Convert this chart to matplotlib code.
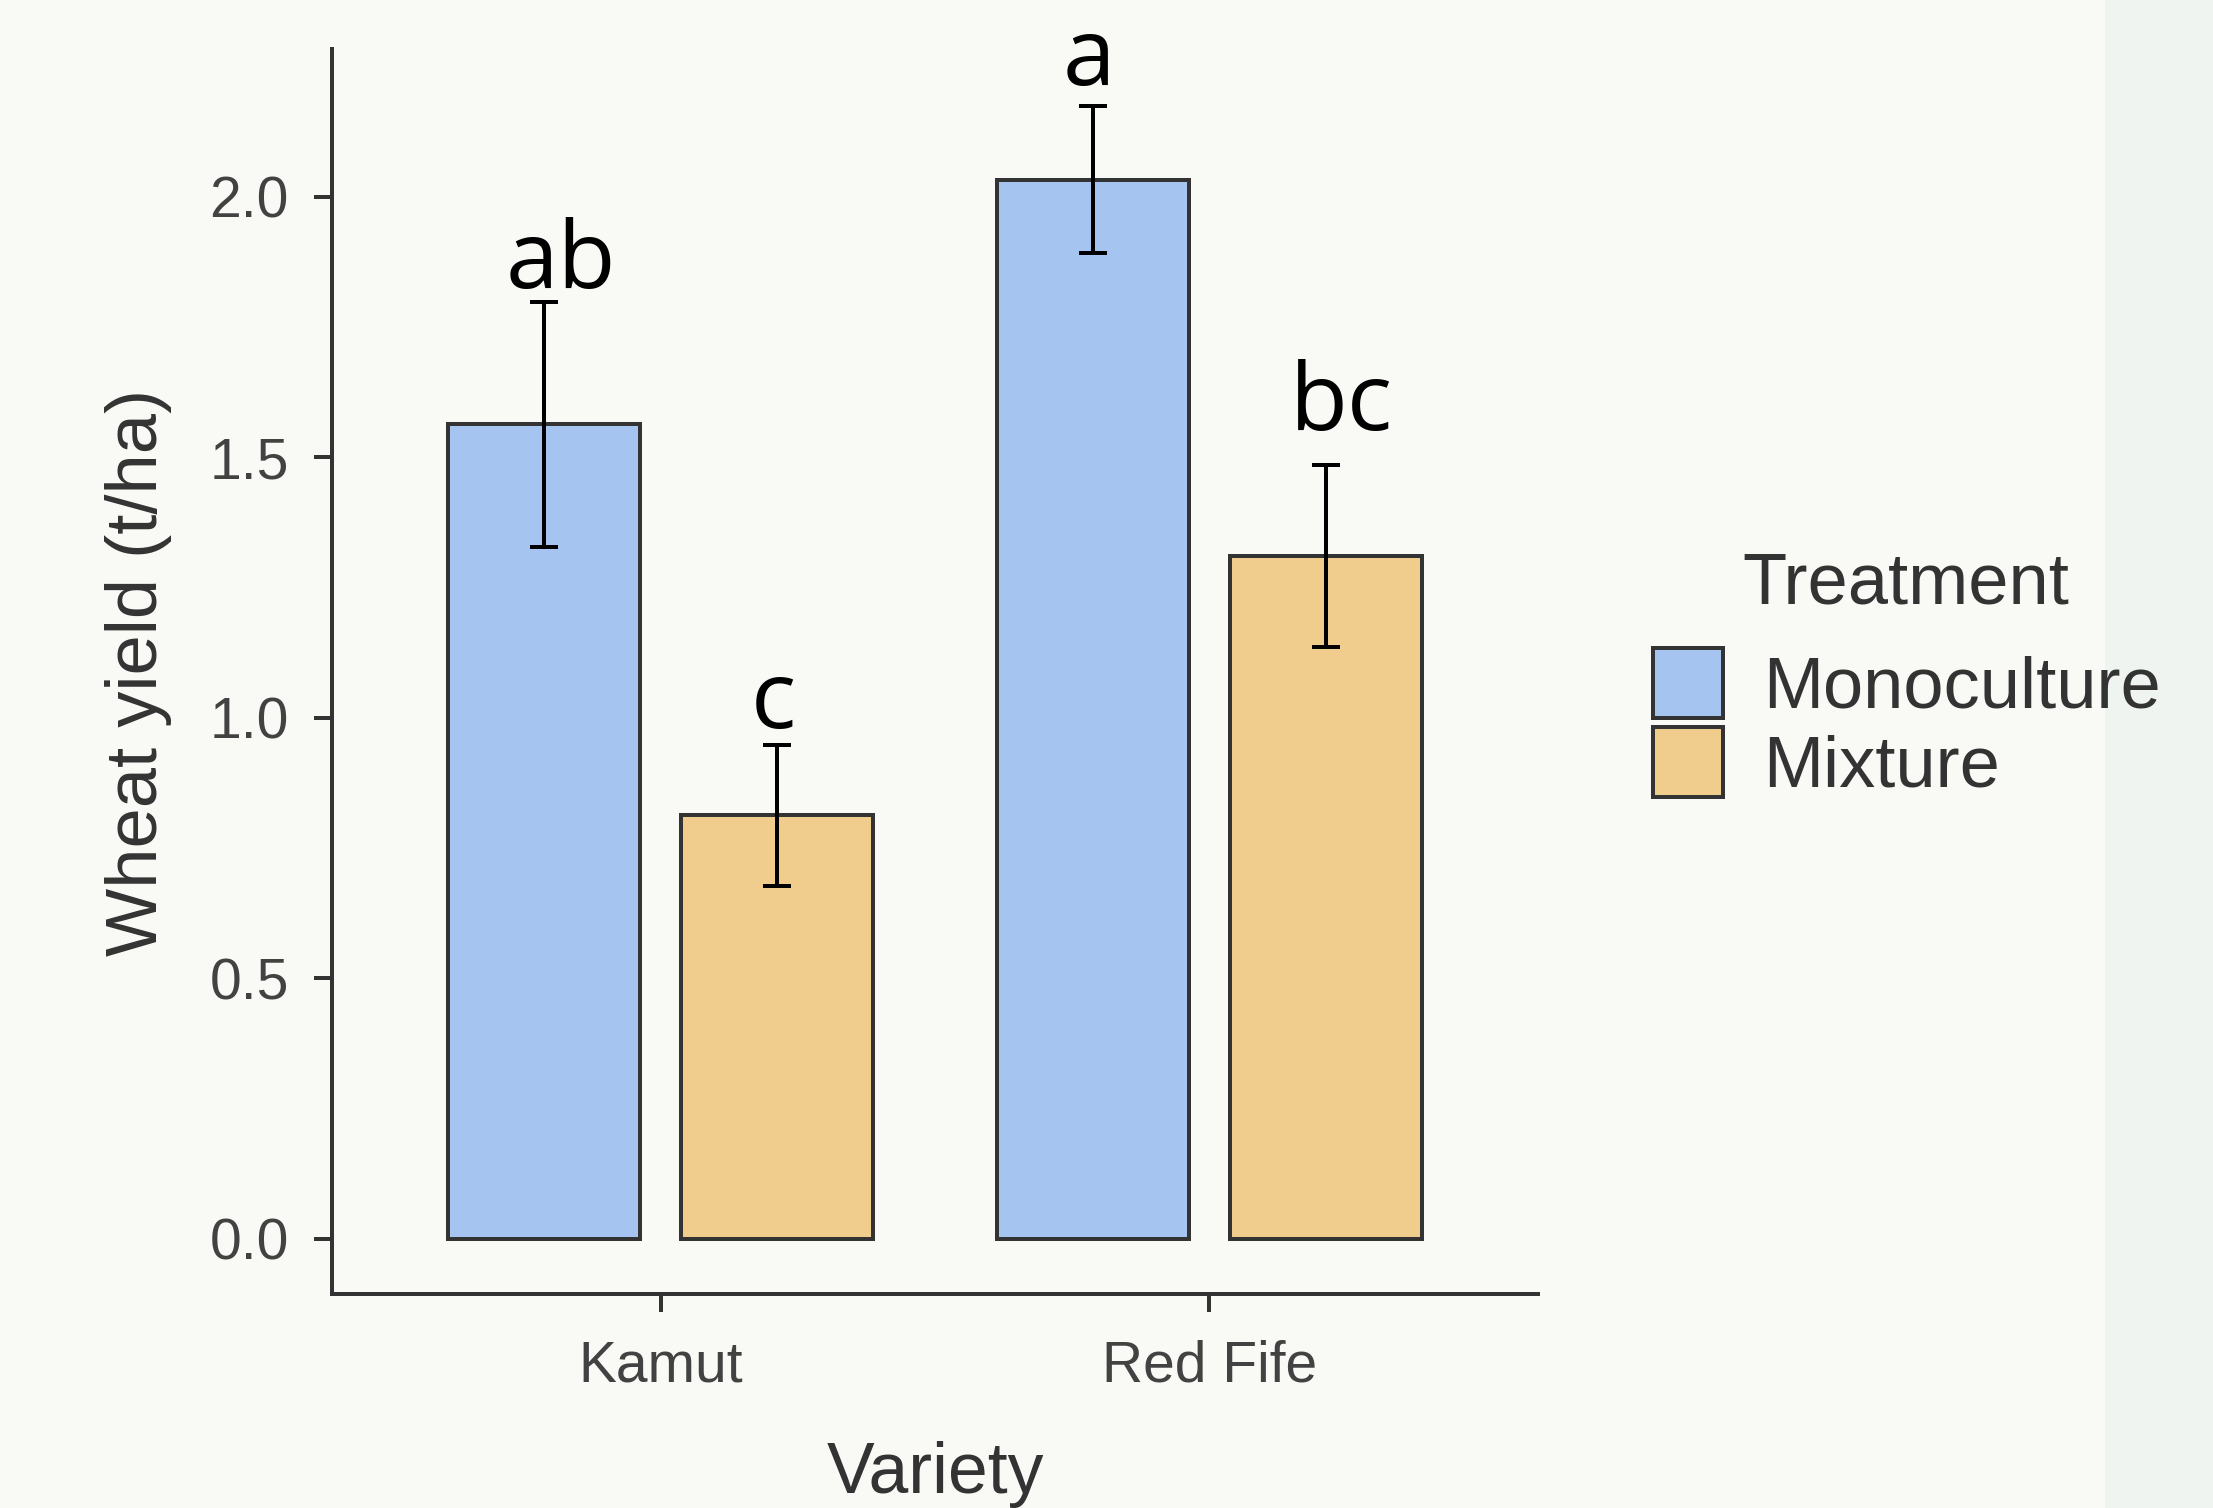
import matplotlib
matplotlib.use("Agg")
import matplotlib.pyplot as plt
from matplotlib.patches import Rectangle, Patch
from matplotlib.transforms import offset_copy
import numpy as np

# ---- data ----
varieties = ["Kamut", "Red Fife"]
treatments = ["Monoculture", "Mixture"]
mono_mean = [1.563, 2.033]
mono_se = [0.235, 0.141]
mix_mean = [0.813, 1.311]
mix_se = [0.135, 0.175]
mono_letters = ["ab", "a"]
mix_letters = ["c", "bc"]
mono_letter_y = [1.825, 2.215]
mix_letter_y = [0.981, 1.553]
yticks = [0.0, 0.5, 1.0, 1.5, 2.0]

# ---- style ----
BG = "#f9faf5"
STRIP = "#eff4f0"
C_MONO = "#a5c4f0"
C_MIX = "#f0cd8c"
EDGE = "#333333"
TXT = "#333333"
TICKTXT = "#424242"
W, H = 2213, 1508
DPI = 100
PX = 72 / DPI  # points per pixel

plt.rcParams['font.family'] = ['Liberation Sans', 'DejaVu Sans']

fig = plt.figure(figsize=(W / DPI, H / DPI), dpi=DPI, facecolor=BG)
fig.patches.append(Rectangle((2105 / W, 0), 1 - 2105 / W, 1, transform=fig.transFigure,
                             facecolor=STRIP, edgecolor='none', zorder=-10))

ax_l, ax_r, ax_b, ax_t = 332, 1538, 1294, 49.4
ax = fig.add_axes([ax_l / W, 1 - ax_b / H, (ax_r - ax_l) / W, (ax_b - ax_t) / H])
ax.set_facecolor(BG)

x = np.arange(len(varieties))
bw = 0.35
off = 0.2125
lw = 4.0 * PX

ax.bar(x - off, mono_mean, width=bw, color=C_MONO, edgecolor=EDGE, linewidth=lw, zorder=2)
ax.bar(x + off, mix_mean, width=bw, color=C_MIX, edgecolor=EDGE, linewidth=lw, zorder=2)
cap = 14 * PX
ax.errorbar(x - off, mono_mean, yerr=mono_se, fmt='none', ecolor='black', elinewidth=lw,
            capsize=cap, capthick=lw, zorder=3)
ax.errorbar(x + off, mix_mean, yerr=mix_se, fmt='none', ecolor='black', elinewidth=lw,
            capsize=cap, capthick=lw, zorder=3)


def letter(xi, yi, lab):
    dx = (16 if len(lab) > 1 else -4) * PX
    tr = offset_copy(ax.transData, fig=fig, x=dx, y=0, units='points')
    ax.text(xi, yi, lab, ha='center', va='baseline', fontsize=68, transform=tr,
            family=['Open Sans', 'DejaVu Sans'], color='black', zorder=4)


for xi, yi, lab in zip(x - off, mono_letter_y, mono_letters):
    letter(xi, yi, lab)
for xi, yi, lab in zip(x + off, mix_letter_y, mix_letters):
    letter(xi, yi, lab)

ax.set_xlim(-0.6, 1.6)
ax.set_ylim(-0.106, 2.283)
ax.set_xticks(x)
ax.set_xticklabels(varieties)
ax.set_yticks(yticks)
ax.set_yticklabels([f"{v:.1f}" for v in yticks])

for s in ['top', 'right']:
    ax.spines[s].set_visible(False)
for s in ['left', 'bottom']:
    ax.spines[s].set_color(EDGE)
    ax.spines[s].set_linewidth(lw)
    ax.spines[s].set_capstyle('projecting')

ax.tick_params(axis='both', length=18 * PX, width=lw, color=EDGE, labelsize=41, labelcolor=TICKTXT)
ax.tick_params(axis='x', pad=20)
ax.tick_params(axis='y', pad=18)

fig.text(138 / W, 1 - 672 / H, "Wheat yield (t/ha)", rotation=90, ha='center', va='center',
         fontsize=52, color=TXT)
fig.text(935 / W, 1 - 1493 / H, "Variety", ha='center', va='baseline', fontsize=51.5, color=TXT)

handles = [Patch(facecolor=C_MONO, edgecolor=EDGE, linewidth=lw),
           Patch(facecolor=C_MIX, edgecolor=EDGE, linewidth=lw)]
fig.legend(handles, treatments, loc='upper left', bbox_to_anchor=(1653 / W, 1 - 648 / H),
           frameon=False, borderpad=0, borderaxespad=0, handlelength=0.972, handleheight=1.118,
           handletextpad=0.55, labelspacing=0.06, fontsize=52, labelcolor=TXT)
fig.text(1906 / W, 1 - 604 / H, "Treatment", ha='center', va='baseline', fontsize=52, color=TXT)

fig.savefig("out.png", dpi=DPI, facecolor=BG)
